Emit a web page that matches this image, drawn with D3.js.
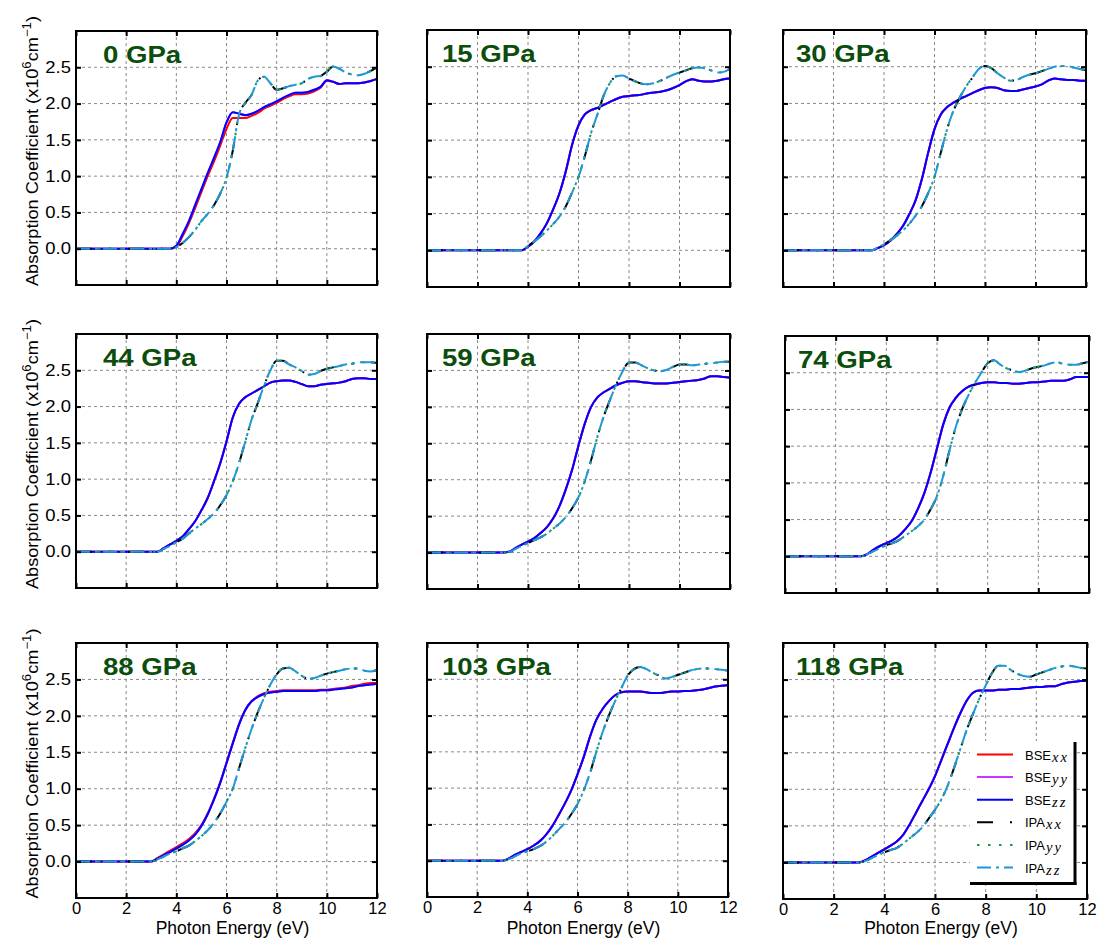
<!DOCTYPE html>
<html>
<head>
<meta charset="utf-8">
<script src="https://cdn.jsdelivr.net/npm/d3@7"></script>
<style>
    body { margin: 0; background: #fff; }
    svg { display: block; font-family: Arial, "Liberation Sans", sans-serif; }
</style>
</head>
<body>
<svg id="graph" width="1102" height="941"></svg>
<script>
// Energy grid (eV) shared by every curve
const energie = [0,
    3, 3.25, 3.5, 3.75, 4, 4.25, 4.5, 4.75, 5, 5.25, 5.5, 5.75,
    6, 6.25, 6.5, 6.75, 7, 7.25, 7.5, 7.75, 8, 8.25, 8.5, 8.75,
    9, 9.25, 9.5, 9.75, 10, 10.25, 10.5, 10.75, 11, 11.25, 11.5, 11.75, 12];

// Panel titles
const pressions = ["0 GPa", "15 GPa", "30 GPa", "44 GPa", "59 GPa", "74 GPa", "88 GPa", "103 GPa", "118 GPa"];

// Absorption coefficient (x10^6 cm^-1)
const bse0   = [0, 0,0,0,0, 0.04,0.2,0.38,0.6, 0.82,1.04,1.25,1.47, 1.74,1.88,1.86,1.84, 1.86,1.9,1.95,1.99, 2.03,2.08,2.12,2.15, 2.15,2.16,2.19,2.23, 2.32,2.3,2.27,2.28, 2.28,2.28,2.29,2.31, 2.34];
const bse0xx = [0, 0,0,0,0, 0.03,0.17,0.35,0.56, 0.78,1.0,1.2,1.42, 1.65,1.8,1.8,1.8, 1.83,1.87,1.93,1.97, 2.01,2.06,2.1,2.13, 2.13,2.14,2.17,2.22, 2.31,2.3,2.27,2.28, 2.28,2.28,2.29,2.31, 2.34];
const ipa0   = [0, 0,0,0,0, 0.02,0.08,0.16,0.26, 0.38,0.48,0.6,0.76, 0.98,1.35,1.85,2.01, 2.12,2.32,2.37,2.28, 2.19,2.21,2.24,2.26, 2.28,2.34,2.37,2.38, 2.44,2.51,2.48,2.43, 2.4,2.39,2.41,2.45, 2.5];

const bse15 = [0, 0,0,0,0, 0.05,0.12,0.23,0.37, 0.56,0.78,1.08,1.44, 1.7,1.85,1.91,1.94, 1.98,2.02,2.06,2.09, 2.1,2.11,2.12,2.14, 2.15,2.16,2.18,2.21, 2.25,2.3,2.33,2.31, 2.3,2.3,2.31,2.33, 2.34];
const ipa15 = [0, 0,0,0,0, 0.06,0.12,0.19,0.27, 0.36,0.46,0.6,0.79, 1.0,1.28,1.6,1.85, 2.11,2.28,2.37,2.38, 2.34,2.3,2.27,2.26, 2.28,2.31,2.35,2.39, 2.42,2.45,2.48,2.49, 2.48,2.45,2.42,2.43, 2.47];

const bse30 = [0, 0,0,0,0.03, 0.07,0.13,0.22,0.33, 0.49,0.68,0.97,1.33, 1.65,1.85,1.95,2.01, 2.06,2.1,2.14,2.18, 2.21,2.22,2.21,2.18, 2.17,2.17,2.19,2.21, 2.23,2.26,2.31,2.34, 2.33,2.32,2.32,2.31, 2.31];
const ipa30 = [0, 0,0,0,0.04, 0.08,0.14,0.2,0.27, 0.36,0.47,0.6,0.78, 1.0,1.33,1.65,1.9, 2.08,2.23,2.35,2.47, 2.51,2.48,2.41,2.35, 2.31,2.32,2.36,2.39, 2.41,2.44,2.47,2.5, 2.51,2.51,2.49,2.47, 2.45];

const bse44 = [0, 0,0,0.05,0.1, 0.15,0.21,0.31,0.42, 0.57,0.74,0.97,1.22, 1.52,1.85,2.04,2.13, 2.18,2.23,2.28,2.33, 2.35,2.36,2.36,2.34, 2.31,2.28,2.28,2.3, 2.31,2.32,2.33,2.35, 2.38,2.39,2.39,2.38, 2.38];
const ipa44 = [0, 0,0,0.04,0.08, 0.13,0.18,0.25,0.32, 0.38,0.45,0.53,0.64, 0.78,0.97,1.22,1.52, 1.82,2.05,2.29,2.5, 2.63,2.63,2.58,2.54, 2.49,2.44,2.45,2.49, 2.52,2.54,2.56,2.58, 2.59,2.61,2.61,2.61, 2.6];

const bse59 = [0, 0,0.01,0.06,0.11, 0.15,0.2,0.27,0.35, 0.47,0.64,0.87,1.14, 1.47,1.77,2.0,2.13, 2.2,2.25,2.3,2.33, 2.35,2.35,2.34,2.33, 2.32,2.32,2.32,2.33, 2.34,2.35,2.36,2.37, 2.39,2.42,2.42,2.41, 2.4];
const ipa59 = [0, 0,0.01,0.05,0.09, 0.13,0.17,0.21,0.26, 0.33,0.4,0.49,0.61, 0.76,0.98,1.27,1.59, 1.87,2.1,2.31,2.49, 2.61,2.61,2.57,2.53, 2.5,2.49,2.51,2.55, 2.58,2.58,2.57,2.58, 2.59,2.6,2.61,2.62, 2.62];

const bse74 = [0, 0,0.03,0.09,0.14, 0.18,0.22,0.28,0.37, 0.48,0.65,0.86,1.14, 1.47,1.8,2.03,2.16, 2.25,2.31,2.34,2.36, 2.37,2.37,2.36,2.36, 2.35,2.35,2.36,2.37, 2.37,2.38,2.39,2.39, 2.39,2.41,2.44,2.44, 2.44];
const ipa74 = [0, 0,0.03,0.07,0.11, 0.15,0.18,0.22,0.28, 0.34,0.41,0.5,0.64, 0.82,1.1,1.45,1.77, 2.01,2.2,2.36,2.5, 2.63,2.67,2.61,2.56, 2.53,2.51,2.53,2.56, 2.58,2.6,2.63,2.64, 2.62,2.61,2.61,2.63, 2.65];

const bse88   = [0, 0,0.04,0.09,0.13, 0.18,0.23,0.29,0.37, 0.49,0.65,0.85,1.08, 1.35,1.62,1.88,2.08, 2.2,2.26,2.3,2.32, 2.33,2.34,2.34,2.34, 2.34,2.34,2.34,2.35, 2.35,2.36,2.37,2.38, 2.39,2.41,2.42,2.43, 2.44];
const bse88xx = [0, 0,0.05,0.1,0.15, 0.2,0.25,0.31,0.39, 0.5,0.66,0.86,1.09, 1.36,1.63,1.89,2.08, 2.2,2.27,2.31,2.33, 2.34,2.35,2.35,2.35, 2.35,2.35,2.35,2.36, 2.36,2.37,2.38,2.39, 2.41,2.42,2.44,2.45, 2.45];
const ipa88   = [0, 0,0.03,0.07,0.11, 0.14,0.18,0.22,0.28, 0.35,0.43,0.53,0.66, 0.82,1.0,1.28,1.56, 1.82,2.05,2.25,2.43, 2.57,2.65,2.66,2.61, 2.55,2.51,2.52,2.55, 2.58,2.6,2.62,2.64, 2.65,2.65,2.62,2.61, 2.63];

const bse103 = [0, 0,0.03,0.08,0.12, 0.16,0.21,0.27,0.36, 0.48,0.63,0.79,0.97, 1.19,1.43,1.71,1.94, 2.09,2.2,2.28,2.32, 2.33,2.33,2.33,2.32, 2.31,2.31,2.32,2.33, 2.33,2.34,2.34,2.35, 2.36,2.38,2.4,2.41, 2.42];
const ipa103 = [0, 0,0.02,0.06,0.1, 0.13,0.16,0.2,0.26, 0.34,0.43,0.52,0.64, 0.78,0.97,1.21,1.5, 1.77,2.0,2.2,2.38, 2.55,2.64,2.67,2.64, 2.59,2.55,2.51,2.53, 2.56,2.59,2.62,2.64, 2.65,2.65,2.64,2.63, 2.62];

const bse118 = [0, 0,0.03,0.08,0.13, 0.18,0.23,0.29,0.38, 0.52,0.68,0.84,1.0, 1.18,1.4,1.62,1.84, 2.04,2.21,2.32,2.35, 2.35,2.35,2.36,2.36, 2.37,2.37,2.38,2.39, 2.4,2.4,2.41,2.41, 2.44,2.46,2.47,2.48, 2.48];
const ipa118 = [0, 0,0.02,0.06,0.1, 0.14,0.17,0.2,0.26, 0.33,0.4,0.48,0.6, 0.72,0.86,1.05,1.29, 1.55,1.81,2.03,2.24, 2.42,2.59,2.69,2.69, 2.63,2.58,2.55,2.54, 2.57,2.6,2.63,2.66, 2.68,2.69,2.68,2.66, 2.65];

// One entry per panel for each of the six series
const bseXX = [bse0xx, bse15, bse30, bse44, bse59, bse74, bse88xx, bse103, bse118];
const bseYY = [bse0, bse15, bse30, bse44, bse59, bse74, bse88, bse103, bse118];
const bseZZ = [bse0, bse15, bse30, bse44, bse59, bse74, bse88, bse103, bse118];
const ipaXX = [ipa0, ipa15, ipa30, ipa44, ipa59, ipa74, ipa88, ipa103, ipa118];
const ipaYY = [ipa0, ipa15, ipa30, ipa44, ipa59, ipa74, ipa88, ipa103, ipa118];
const ipaZZ = [ipa0, ipa15, ipa30, ipa44, ipa59, ipa74, ipa88, ipa103, ipa118];

const xTicks = [0, 2, 4, 6, 8, 10, 12];
const yTicks = [0, 0.5, 1, 1.5, 2, 2.5];

// Series styles, in drawing / legend order
const series = [
    { nom: "BSE", sub: "xx", data: bseXX, couleur: "#ff0000", dash: null },
    { nom: "BSE", sub: "yy", data: bseYY, couleur: "#cc33ff", dash: null },
    { nom: "BSE", sub: "zz", data: bseZZ, couleur: "#0000ff", dash: null },
    { nom: "IPA", sub: "xx", data: ipaXX, couleur: "#000000", dash: "16,17,2,17" },
    { nom: "IPA", sub: "yy", data: ipaYY, couleur: "#1a9c3e", dash: "2.5,8.5" },
    { nom: "IPA", sub: "zz", data: ipaZZ, couleur: "#1f97d8", dash: "14,5,3,5" }
];

// Plot frames [left, top, right, bottom] in pixels
const cadres = [
    [76, 31, 377, 285], [427, 30, 730, 287], [783, 30, 1086, 287],
    [76, 334, 377, 588], [427, 334, 730, 589], [785, 336, 1089, 593],
    [76, 643, 377, 898], [427, 643, 728, 897], [783, 643, 1087, 899]
];
const decalTitre = [27, 15, 13];

let svg = d3.select("#graph");
const fmt = d3.format(".1f");

cadres.forEach((c, i) => {
    const [x0, y0, x1, y1] = c;
    const col = i % 3, row = Math.floor(i / 3);

    const xScale = d3.scaleLinear().domain([0, 12]).range([x0, x1]);
    const yScale = d3.scaleLinear().domain([-0.5, 3.0]).range([y1, y0]);

    const g = svg.append("g");

    // Dotted grid
    g.selectAll(".vgrid")
        .data([2, 4, 6, 8, 10])
        .enter().append("line")
        .attr("x1", d => xScale(d)).attr("x2", d => xScale(d))
        .attr("y1", y0).attr("y2", y1)
        .attr("stroke", "#8a8a8a").attr("stroke-width", 1)
        .attr("stroke-dasharray", "3,3");
    g.selectAll(".hgrid")
        .data(yTicks)
        .enter().append("line")
        .attr("x1", x0).attr("x2", x1)
        .attr("y1", d => yScale(d)).attr("y2", d => yScale(d))
        .attr("stroke", "#8a8a8a").attr("stroke-width", 1)
        .attr("stroke-dasharray", "3,3");

    // Curves
    const line = d3.line()
        .x((d, j) => xScale(energie[j]))
        .y(d => yScale(d))
        .curve(d3.curveMonotoneX);

    series.forEach(s => {
        g.append("path")
            .attr("d", line(s.data[i]))
            .attr("fill", "none")
            .attr("stroke", s.couleur)
            .attr("stroke-width", 2)
            .attr("stroke-dasharray", s.dash);
    });

    // Inward ticks on all four sides
    const styleAxe = a => {
        a.select(".domain").remove();
        a.selectAll(".tick line").attr("stroke", "#000").attr("stroke-width", 2);
        a.selectAll("text").attr("fill", "#000").style("font-size", "16.5px")
            .style("font-family", "Arial, 'Liberation Sans', sans-serif");
    };

    g.append("g")
        .attr("transform", `translate(0,${y1})`)
        .call(d3.axisBottom(xScale).tickValues(xTicks).tickSize(-5).tickPadding(4)
            .tickFormat(row === 2 ? d3.format("d") : ""))
        .call(styleAxe);
    g.append("g")
        .attr("transform", `translate(0,${y0})`)
        .call(d3.axisTop(xScale).tickValues(xTicks).tickSize(-5).tickFormat(""))
        .call(styleAxe);

    const axeY = g.append("g")
        .attr("transform", `translate(${x0},0)`)
        .call(d3.axisLeft(yScale).tickValues(yTicks).tickSize(-5).tickPadding(5)
            .tickFormat(col === 0 ? fmt : ""))
        .call(styleAxe);
    // Slightly wider y tick labels, as in the original
    axeY.selectAll("text")
        .attr("x", 0)
        .attr("transform", "translate(-5,0) scale(1.12,1)");

    g.append("g")
        .attr("transform", `translate(${x1},0)`)
        .call(d3.axisRight(yScale).tickValues(yTicks).tickSize(-5).tickFormat(""))
        .call(styleAxe);

    // Frame
    g.append("rect")
        .attr("x", x0).attr("y", y0)
        .attr("width", x1 - x0).attr("height", y1 - y0)
        .attr("fill", "none").attr("stroke", "#000").attr("stroke-width", 2);

    // Pressure title
    g.append("text")
        .text(pressions[i])
        .attr("transform", `translate(${x0 + decalTitre[col]},${y0 + 32}) scale(1.2,1)`)
        .attr("fill", "#0b4d0b")
        .style("font-size", "23px")
        .style("font-weight", "bold");

    // Y axis title on the left column
    if (col === 0) {
        const t = g.append("text")
            .attr("transform", `translate(38,${(y0 + y1) / 2 - 7}) rotate(-90) scale(1.1,1)`)
            .attr("text-anchor", "middle")
            .attr("fill", "#000")
            .style("font-size", "16.5px");
        t.append("tspan").text("Absorption Coefficient (x10");
        t.append("tspan").text("6").attr("dy", -7).style("font-size", "12px");
        t.append("tspan").text("cm").attr("dy", 7);
        t.append("tspan").text("\u22121").attr("dy", -7).style("font-size", "12px");
        t.append("tspan").text(")").attr("dy", 7);
    }

    // X axis title on the bottom row
    if (row === 2) {
        g.append("text")
            .text("Photon Energy (eV)")
            .attr("x", (x0 + x1) / 2 + 6)
            .attr("y", 934)
            .attr("text-anchor", "middle")
            .attr("fill", "#000")
            .style("font-size", "17.5px");
    }
});

// Legend inside the last panel
const legende = svg.append("g");
legende.append("rect")
    .attr("x", 970).attr("y", 741)
    .attr("width", 105).attr("height", 142)
    .attr("fill", "#fff");
legende.append("line")
    .attr("x1", 1075).attr("x2", 1075).attr("y1", 742).attr("y2", 885)
    .attr("stroke", "#000").attr("stroke-width", 3);
legende.append("line")
    .attr("x1", 970).attr("x2", 1076.5).attr("y1", 883.5).attr("y2", 883.5)
    .attr("stroke", "#000").attr("stroke-width", 3);

const items = legende.selectAll(".legend-item")
    .data(series)
    .enter().append("g")
    .attr("class", "legend-item")
    .attr("transform", (d, k) => `translate(0,${754.5 + k * 22.6})`);

items.append("line")
    .attr("x1", 977).attr("x2", 1013)
    .attr("stroke", d => d.couleur)
    .attr("stroke-width", 2)
    .attr("stroke-dasharray", d => d.dash);

const lbl = items.append("text")
    .attr("x", 1025).attr("y", 5)
    .attr("fill", "#000")
    .style("font-size", "13px");
lbl.append("tspan").text(d => d.nom);
lbl.append("tspan").text(d => d.sub)
    .attr("dy", 2)
    .attr("dx", 1)
    .style("font-family", "'Times New Roman', 'Liberation Serif', serif")
    .style("font-style", "italic")
    .style("font-size", "14.5px")
    .style("letter-spacing", "2px");
</script>
</body>
</html>
